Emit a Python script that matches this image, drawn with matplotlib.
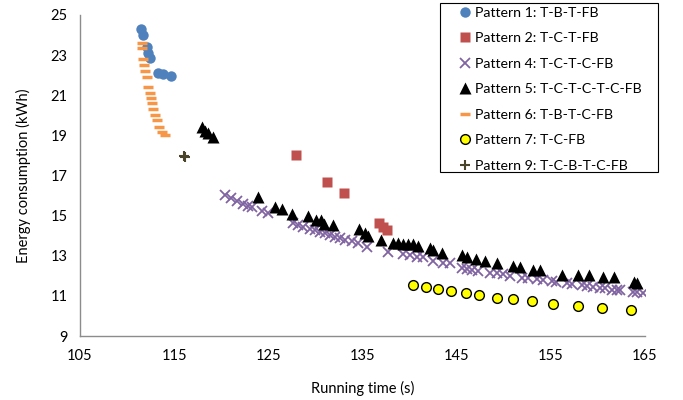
import matplotlib
matplotlib.use("Agg")
import matplotlib.pyplot as plt
from matplotlib.patches import Rectangle

plt.rcParams['font.family'] = ['Lato', 'DejaVu Sans']

# Pattern 1: T-B-T-FB
p1_x = [111.5, 111.7, 112.1, 112.2, 112.4, 113.3, 113.8, 114.7]
p1_y = [24.3, 24.0, 23.4, 23.1, 22.85, 22.1, 22.05, 21.95]

# Pattern 2: T-C-T-FB
p2_x = [127.9, 131.2, 133.0, 136.7, 137.2, 137.6]
p2_y = [18.02, 16.67, 16.13, 14.63, 14.43, 14.28]

# Pattern 4: T-C-T-C-FB
p4_x = [120.4, 121.0, 121.7, 122.3, 122.8, 123.3, 124.3, 125.0, 127.6, 128.1,
        128.7, 129.4, 130.0, 130.5, 131.0, 131.5, 132.1, 132.6, 133.1, 133.9,
        134.5, 135.5, 137.7, 139.3, 140.0, 140.8, 141.4, 142.5, 143.5, 144.3,
        145.6, 146.1, 146.6, 147.3, 148.5, 149.3, 149.9, 150.7, 151.9, 152.6,
        153.5, 154.2, 155.1, 155.6, 156.7, 157.3, 158.3, 158.8, 159.5, 160.2,
        160.7, 161.5, 162.0, 162.3, 163.7, 164.2, 164.8]
p4_y = [16.03, 15.88, 15.73, 15.58, 15.48, 15.43, 15.23, 15.13, 14.63, 14.53,
        14.43, 14.33, 14.28, 14.18, 14.13, 14.03, 13.93, 13.88, 13.78, 13.73,
        13.63, 13.43, 13.19, 13.09, 13.04, 12.94, 12.94, 12.74, 12.64, 12.64,
        12.39, 12.34, 12.29, 12.24, 12.14, 12.14, 12.09, 11.99, 11.89, 11.89,
        11.84, 11.79, 11.74, 11.69, 11.64, 11.59, 11.54, 11.49, 11.44, 11.39,
        11.39, 11.29, 11.29, 11.29, 11.19, 11.19, 11.14]

# Pattern 5: T-C-T-C-T-C-FB
p5_x = [117.95, 118.3, 118.6, 119.1, 123.9, 125.7, 126.4, 127.5, 129.2, 130.05,
        130.6, 130.9, 131.9, 134.6, 135.25, 135.6, 136.95, 138.2, 138.8, 139.3,
        139.8, 140.35, 140.9, 142.15, 142.5, 143.4, 145.55, 146.1, 147.0, 148.0,
        149.3, 151.0, 151.7, 153.1, 153.8, 156.2, 157.9, 159.1, 160.5, 161.7,
        163.8, 164.1]
p5_y = [19.42, 19.22, 19.12, 18.92, 15.93, 15.43, 15.33, 15.08, 14.98, 14.78,
        14.78, 14.58, 14.53, 14.33, 14.13, 13.98, 13.78, 13.63, 13.63, 13.58,
        13.58, 13.58, 13.48, 13.38, 13.28, 13.13, 13.04, 12.94, 12.84, 12.74,
        12.64, 12.49, 12.44, 12.29, 12.29, 12.04, 12.04, 12.04, 11.94, 11.94,
        11.69, 11.64]

# Pattern 6: T-B-T-C-FB
p6_x = [111.6, 111.6, 111.7, 111.8, 111.9, 112.1, 112.2, 112.4, 112.5, 112.6,
        112.75, 112.95, 113.2, 113.4, 113.7, 114.0]
p6_y = [23.6, 23.35, 22.8, 22.5, 22.2, 21.9, 21.4, 21.1, 20.85, 20.6,
        20.3, 20.0, 19.75, 19.4, 19.15, 19.0]

# Pattern 7: T-C-FB
p7_x = [140.35, 141.7, 143.0, 144.4, 146.0, 147.4, 149.3, 151.0, 153.0, 155.2,
        157.9, 160.4, 163.5]
p7_y = [11.54, 11.44, 11.34, 11.24, 11.14, 11.04, 10.89, 10.84, 10.74, 10.59,
        10.49, 10.39, 10.29]

# Pattern 9: T-C-B-T-C-FB
p9_x = [116.0, 116.2]
p9_y = [17.95, 17.9]

x_ticks = [105, 115, 125, 135, 145, 155, 165]
y_ticks = [9, 11, 13, 15, 17, 19, 21, 23, 25]

fig = plt.figure(figsize=(6.83, 4.0), dpi=100)
ax = fig.add_axes([80/683, 1-336/400, (645-80)/683, (336-15)/400])

ax.plot(p1_x, p1_y, 'o', color='#4F81BD', ms=7.5, mec='none', label='Pattern 1: T-B-T-FB')
ax.plot(p2_x, p2_y, 's', color='#C0504D', ms=6.8, mec='none', label='Pattern 2: T-C-T-FB')
ax.plot(p4_x, p4_y, 'x', color='#8064A2', ms=6.5, mew=1.3, label='Pattern 4: T-C-T-C-FB')
ax.plot(p5_x, p5_y, '^', color='black', ms=8, mec='none', label='Pattern 5: T-C-T-C-T-C-FB')
ax.plot(p6_x, p6_y, '_', color='#F79646', ms=7.5, mew=2.5, label='Pattern 6: T-B-T-C-FB')
ax.plot(p7_x, p7_y, 'o', color='#FFFF00', ms=7, mec='black', mew=1.0, label='Pattern 7: T-C-FB')
ax.plot(p9_x, p9_y, '+', color='#4A452A', ms=6.5, mew=1.5, label='Pattern 9: T-C-B-T-C-FB')

ax.set_xlim(105, 165)
ax.set_ylim(9, 25)
ax.set_xticks(x_ticks)
ax.set_yticks(y_ticks)
ax.tick_params(length=0, labelsize=10.5, colors='black', pad=9)
for s in ['top', 'right']:
    ax.spines[s].set_visible(False)
for s in ['left', 'bottom']:
    ax.spines[s].set_color('#8C8C8C')
    ax.spines[s].set_linewidth(1)

ax.set_xlabel('Running time (s)', fontsize=10.5, labelpad=13)
ax.set_ylabel('Energy consumption (kWh)', fontsize=10.5, labelpad=14)

# legend box drawn by hand so the padding can match
fig.patches.append(Rectangle((440/683, 1-172/400), 218/683, 169/400,
                             transform=fig.transFigure, fill=False,
                             edgecolor='black', linewidth=0.8))
leg = fig.legend(loc='upper left', bbox_to_anchor=(458/683, 1-7/400),
                 bbox_transform=fig.transFigure, fontsize=10.2, frameon=False,
                 handlelength=1.0, handletextpad=0.2, labelspacing=0.95,
                 borderpad=0, borderaxespad=0, numpoints=1)

fig.savefig('out.png', dpi=100, facecolor='white')
